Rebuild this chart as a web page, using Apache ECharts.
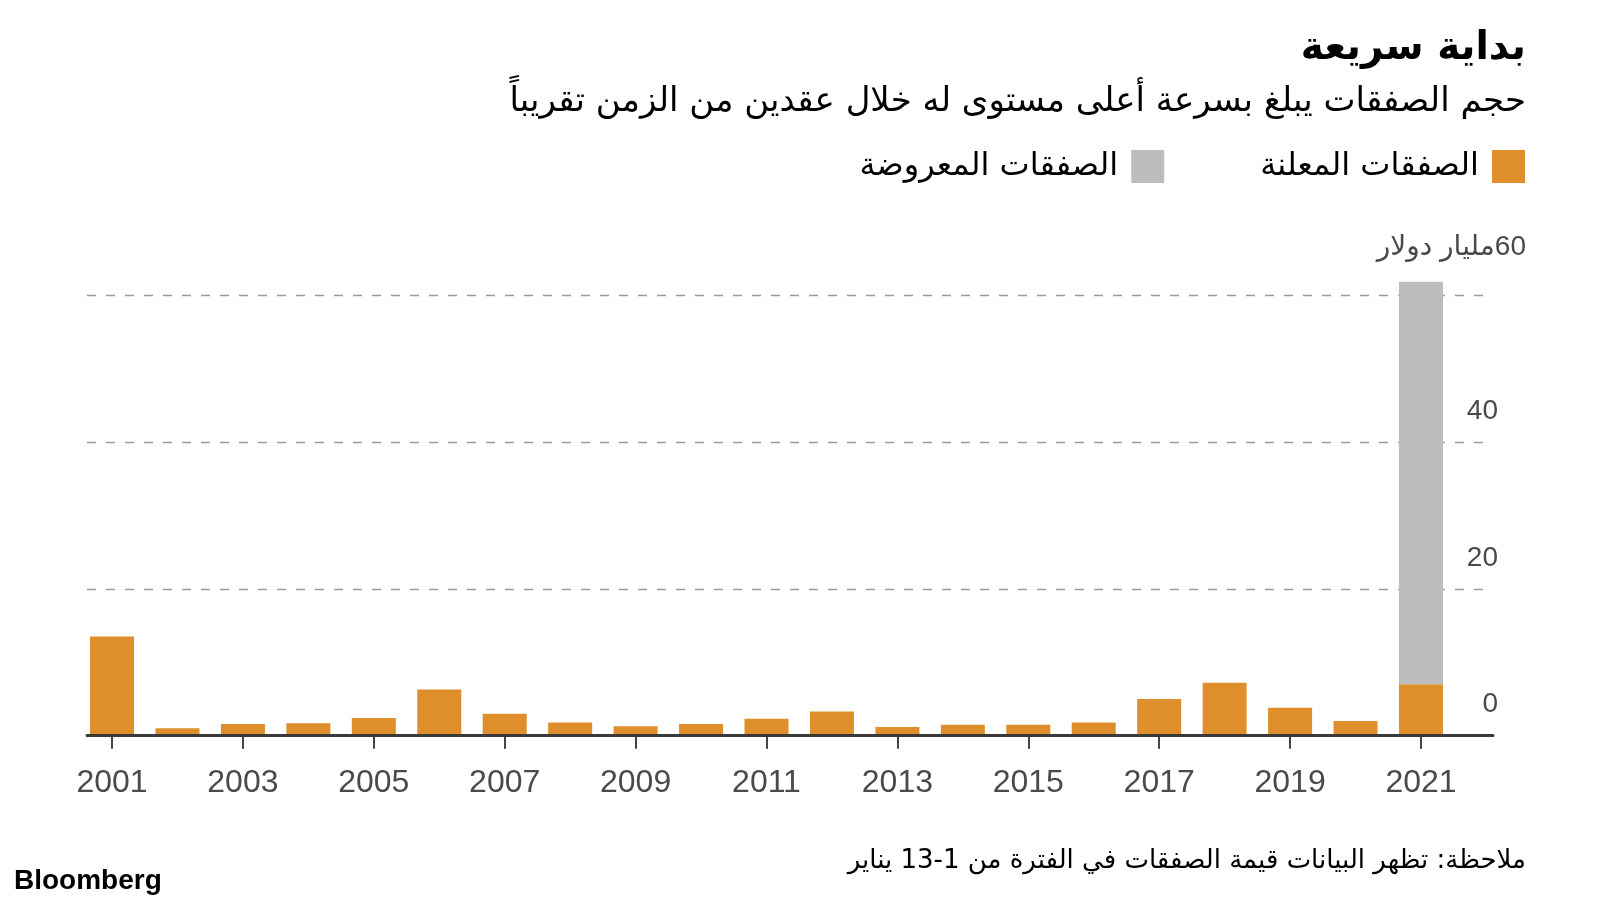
<!DOCTYPE html>
<html>
<head>
<meta charset="utf-8">
<script src="https://cdn.jsdelivr.net/npm/echarts@6/dist/echarts.min.js"></script>
<style>html,body{margin:0;padding:0;background:#fff}#c{width:1600px;height:900px}</style>
</head>
<body>
<div id="c" dir="rtl"></div>
<script>
// ---- data ----
const years = ['2001','2002','2003','2004','2005','2006','2007','2008','2009','2010','2011','2012','2013','2014','2015','2016','2017','2018','2019','2020','2021'];
const announced = [13.5, 1.0, 1.6, 1.7, 2.4, 6.3, 3.0, 1.8, 1.3, 1.6, 2.3, 3.3, 1.2, 1.5, 1.5, 1.8, 5.0, 7.2, 3.8, 2.0, 7.0];
const offered = [null, null, null, null, null, null, null, null, null, null, null, null, null, null, null, null, null, null, null, null, 54.8];
const yTicks = [0, 20, 40, 60];
const unitLabel = 'مليار دولار';
const announcedName = 'الصفقات المعلنة';
const offeredName = 'الصفقات المعروضة';
const titleText = 'بداية سريعة';
const subtitleText = 'حجم الصفقات يبلغ بسرعة أعلى مستوى له خلال عقدين من الزمن تقريباً';
const noteText = 'ملاحظة: تظهر البيانات قيمة الصفقات في الفترة من 1\u200F-13 يناير';
const sourceText = 'Bloomberg';

const AR = 'DejaVu Sans';
const NUM = 'Liberation Sans, DejaVu Sans';
const chart = echarts.init(document.getElementById('c'), null, {renderer: 'canvas'});
chart.setOption({
  animation: false,
  backgroundColor: '#fff',
  title: [
    {text: titleText, right: 74, top: 29, padding: 0,
     textStyle: {fontFamily: AR, fontWeight: 'bold', fontSize: 39, color: '#000'}},
    {text: subtitleText, right: 74, top: 85, padding: 0,
     textStyle: {fontFamily: AR, fontWeight: 'normal', fontSize: 34, color: '#000'}},
    {text: noteText, right: 74, top: 848, padding: 0,
     textStyle: {fontFamily: AR, fontWeight: 'normal', fontSize: 26, color: '#000'}},
    {text: sourceText, left: 14, top: 867, padding: 0,
     textStyle: {fontFamily: 'Liberation Sans', fontWeight: 'bold', fontSize: 28, color: '#000'}}
  ],
  legend: {
    right: 75, top: 150, padding: 0, itemWidth: 33, itemHeight: 33, itemGap: 96,
    align: 'right', icon: 'rect',
    data: [offeredName, announcedName],
    textStyle: {fontFamily: AR, fontSize: 32, color: '#000', padding: [6, 8, 0, 0]}
  },
  grid: [
    {left: 79.3, right: 146.3, top: 295, bottom: 164.3},
    {left: 87, right: 107, top: 295, bottom: 164.3}
  ],
  xAxis: [
    {type: 'category', gridIndex: 0, data: years,
     axisLine: {show: false},
     axisTick: {show: true, interval: 1, alignWithLabel: true, length: 13, lineStyle: {color: '#444', width: 2}},
     axisLabel: {interval: 1, margin: 31, fontSize: 32, color: '#4a4a4a', fontFamily: NUM},
     splitLine: {show: false}},
    {type: 'value', gridIndex: 1, min: 0, max: 1, z: 5,
     axisLine: {show: true, lineStyle: {color: '#3a3a3a', width: 3}},
     axisTick: {show: false}, axisLabel: {show: false}, splitLine: {show: false}}
  ],
  yAxis: [
    {type: 'value', gridIndex: 0, min: 0, max: 60, interval: 20, show: false, splitLine: {show: false}},
    {type: 'value', gridIndex: 1, min: yTicks[0], max: yTicks[yTicks.length - 1], interval: 20, position: 'right',
     axisLine: {show: false}, axisTick: {show: false},
     splitLine: {show: true, lineStyle: {type: [9, 10], color: '#9a9a9a', width: 1.3}},
     axisLabel: {inside: true, margin: -33, fontSize: 28, color: '#4a4a4a', fontFamily: NUM,
       verticalAlign: 'middle', padding: [0, 0, 62, 0],
       formatter: function (v) { return v === yTicks[yTicks.length - 1] ? '{u|' + v + unitLabel + '}' : '{n|' + v + '}'; },
       rich: {
         u: {padding: [0, 0, 34, 0], fontSize: 28, color: '#4a4a4a', fontFamily: NUM},
         n: {padding: [0, 28, 0, 0], fontSize: 28, color: '#4a4a4a', fontFamily: NUM}
       }}}
  ],
  series: [
    {type: 'bar', name: announcedName, stack: 'deals', data: announced, barWidth: 44, clip: false,
     xAxisIndex: 0, yAxisIndex: 0, itemStyle: {color: '#DE8F2C'}},
    {type: 'bar', name: offeredName, stack: 'deals', data: offered, barWidth: 44, clip: false,
     xAxisIndex: 0, yAxisIndex: 0, itemStyle: {color: '#BDBDBD'}}
  ]
});
</script>
</body>
</html>
